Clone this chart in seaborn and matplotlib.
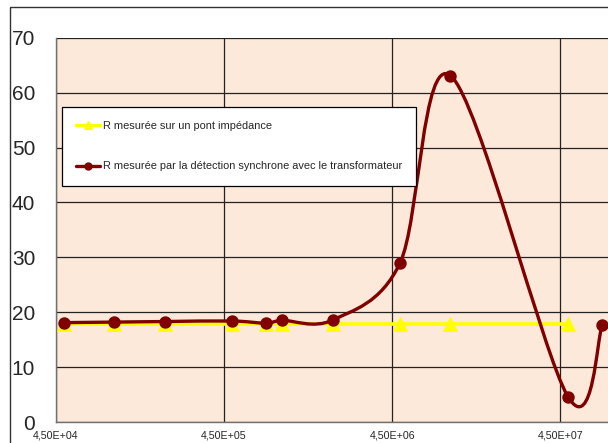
import matplotlib
matplotlib.use("Agg")
import matplotlib.pyplot as plt
import numpy as np
import pandas as pd
import seaborn as sns
from matplotlib.lines import Line2D
from matplotlib.patches import PathPatch, Rectangle
from matplotlib.path import Path
from matplotlib.ticker import FixedLocator, FuncFormatter, NullLocator

# Frequencies (Hz) and measured resistances
FREQ_PONT = [5e4, 1e5, 2e5, 5e5, 8e5, 1e6, 2e6, 5e6, 1e7, 5e7]
R_PONT = [17.9, 17.9, 17.9, 17.9, 17.9, 17.9, 17.9, 17.9, 17.9, 17.9]
FREQ_DS = [5e4, 1e5, 2e5, 5e5, 8e5, 1e6, 2e6, 5e6, 1e7, 5e7, 8e7]
R_DS = [18.1, 18.2, 18.3, 18.4, 18.0, 18.5, 18.6, 28.9, 63.1, 4.6, 17.6]
X_TICKS = [4.5e4, 4.5e5, 4.5e6, 4.5e7]
Y_TICKS = [0, 10, 20, 30, 40, 50, 60, 70]
LABEL_PONT = "R mesurée sur un pont impédance"
LABEL_DS = "R mesurée par la détection synchrone avec le transformateur"

YELLOW = "#FFFF00"
DARK_RED = "#800000"
BG = "#FDE9D9"


def smooth_path(xs, ys):
    # Excel style smoothed line: Catmull-Rom segments as cubic Beziers in log-x space
    lx = np.log10(xs)
    y = np.asarray(ys, dtype=float)
    n = len(lx)
    verts = [(xs[0], y[0])]
    codes = [Path.MOVETO]
    for i in range(n - 1):
        p0 = max(i - 1, 0)
        p3 = min(i + 2, n - 1)
        c1x = lx[i] + (lx[i + 1] - lx[p0]) / 6
        c1y = y[i] + (y[i + 1] - y[p0]) / 6
        c2x = lx[i + 1] - (lx[p3] - lx[i]) / 6
        c2y = y[i + 1] - (y[p3] - y[i]) / 6
        verts += [(10 ** c1x, c1y), (10 ** c2x, c2y), (xs[i + 1], y[i + 1])]
        codes += [Path.CURVE4] * 3
    return Path(verts, codes)


def main():
    sns.set_style("white")
    plt.rcParams["font.family"] = ["Liberation Sans", "DejaVu Sans"]

    df_pont = pd.DataFrame({"freq": FREQ_PONT, "R": R_PONT})
    df_ds = pd.DataFrame({"freq": FREQ_DS, "R": R_DS})

    fig = plt.figure(figsize=(6.08, 4.43), dpi=100)
    ax = fig.add_axes([56 / 608, 21 / 443, 1 - 56 / 608, 384.3 / 443])
    ax.set_facecolor(BG)
    ax.set_xscale("log")

    sns.lineplot(data=df_pont, x="freq", y="R", ax=ax, color=YELLOW, lw=2.6,
                 marker="^", markersize=10, markeredgecolor=YELLOW, zorder=3)

    ax.add_patch(PathPatch(smooth_path(FREQ_DS, R_DS), fill=False,
                           edgecolor=DARK_RED, lw=2.4, zorder=4, capstyle="round"))
    sns.scatterplot(data=df_ds, x="freq", y="R", ax=ax, color=DARK_RED, s=80,
                    edgecolor=DARK_RED, linewidth=0, zorder=5)

    ax.set_xlim(4.5e4, 4.5e4 * 10 ** (552 / 168.1))
    ax.set_ylim(0, 70)
    ax.xaxis.set_major_locator(FixedLocator(X_TICKS))
    ax.xaxis.set_minor_locator(NullLocator())
    ax.xaxis.set_major_formatter(FuncFormatter(
        lambda v, p: f"{v:.2E}".replace(".", ",")))
    ax.set_yticks(Y_TICKS)
    ax.grid(True, color="#222222", lw=0.9)
    ax.set_axisbelow(True)
    ax.set_xlabel("")
    ax.set_ylabel("")

    for side in ["top", "right"]:
        ax.spines[side].set_visible(False)
    for side in ["left", "bottom"]:
        ax.spines[side].set_color("#707070")
        ax.spines[side].set_linewidth(1.0)

    ax.tick_params(axis="y", direction="out", length=6, width=0.9, color="#707070",
                   labelsize=15, pad=9)
    ax.tick_params(axis="x", direction="out", length=2, width=0.9, color="#707070",
                   labelsize=7.7, pad=4)

    handles = [
        Line2D([], [], color=YELLOW, lw=2.4, marker="^", markersize=6),
        Line2D([], [], color=DARK_RED, lw=2.4, marker="o", markersize=5),
    ]
    leg = ax.legend(handles, [LABEL_PONT, LABEL_DS], loc="upper left",
                    bbox_to_anchor=(62 / 608, 1 - 107 / 443), bbox_transform=fig.transFigure,
                    fontsize=7.9, frameon=True, fancybox=False, edgecolor="black",
                    framealpha=1, borderpad=1.3, labelspacing=2.75,
                    handlelength=2.2, handletextpad=0.2, borderaxespad=0)
    leg.get_frame().set_linewidth(0.9)
    leg.set_zorder(10)

    # outer chart frame, cut off at right and bottom
    fig.add_artist(Rectangle((10 / 608, 1 - 7 / 443), 2.0, -2.0, transform=fig.transFigure,
                             fill=False, edgecolor="#333333", lw=1.0, clip_on=False))

    fig.savefig("out.png", dpi=100)
    plt.close(fig)


if __name__ == "__main__":
    main()
